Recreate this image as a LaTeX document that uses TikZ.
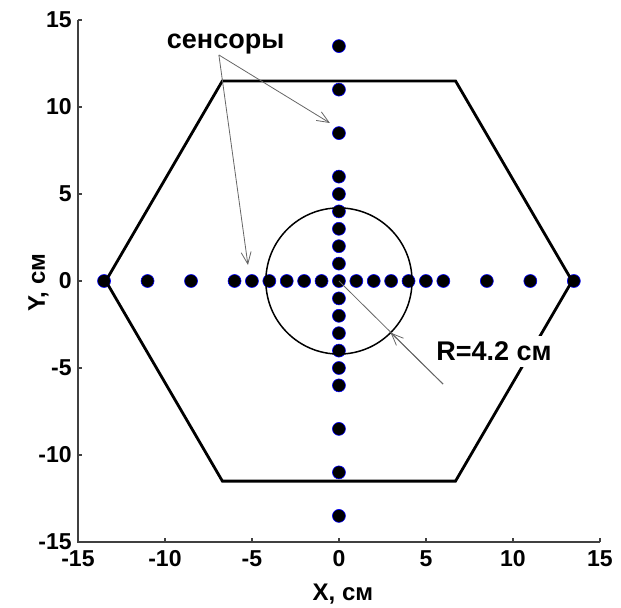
\documentclass[tikz,border=0pt]{standalone}
\usepackage{fontspec}
\setmainfont{Liberation Sans}
\usetikzlibrary{arrows.meta}

\begin{document}
\begin{tikzpicture}[x=17.4pt, y=17.4pt,
  sensor/.style={circle, fill=black, draw=blue, line width=0.6pt, inner sep=0pt, minimum size=13pt},
  ticklabel/.style={inner sep=0pt, font=\bfseries\fontsize{23}{23}\selectfont},
  axislabel/.style={inner sep=0pt, anchor=base, font=\bfseries\fontsize{24}{24}\selectfont},
  note/.style={draw=black!60, line width=0.8pt},
  notearrow/.style={note, -{Straight Barb[length=12pt, width=10pt, line width=0.8pt]}},
  axisline/.style={draw=black!75, line width=1.2pt}]
\useasboundingbox (-19.48,-18.79) rectangle (16.21,16.15);

% axes
\draw[axisline] (-15,15) -- (-15,-15) -- (15,-15);
\foreach \v in {-15,-10,...,15} {
  \draw[axisline] (\v,-15) -- ++(0,0.25);
  \draw[axisline] (-15,\v) -- ++(0.25,0);
  \node[ticklabel, anchor=north] (xl\v) at (\v,-15.46) {\v};
  \node[ticklabel, anchor=east] (yl\v) at (-15.35,\v) {\v};
}
\node[axislabel] (xlab) at (0.23,-18.39) {X, см};
\node[axislabel, rotate=90] (ylab) at (-16.9,-0.1) {Y, см};

% sensors
\foreach \p in {-13.5,-11,-8.5,-6,-5,-4,-3,-2,-1,0,1,2,3,4,5,6,8.5,11,13.5}
  \node[sensor] (sx\p) at (\p,0) {};
\foreach \p in {-13.5,-11,-8.5,-6,-5,-4,-3,-2,-1,1,2,3,4,5,6,8.5,11,13.5}
  \node[sensor] (sy\p) at (0,\p) {};

% hexagon and circle
\draw[line width=2.8pt, line join=miter] (-13.4,0) -- (-6.7,11.5) -- (6.7,11.5) -- (13.4,0)
  -- (6.7,-11.5) -- (-6.7,-11.5) -- cycle;
\draw[line width=1.5pt] (0,0) circle (4.2);

% labels
\node[axislabel, font=\bfseries\fontsize{27}{27}\selectfont] (sens) at (-6.51,13.39) {сенсоры};
\coordinate (senstail) at (-6.9,12.99);
\coordinate (tipx) at (-5.23,0.92);
\coordinate (tipy) at (-0.52,9.08);
\draw[notearrow] (senstail) -- (tipx);
\draw[notearrow] (senstail) -- (tipy);

\coordinate (rtail) at (5.98,-5.92);
\coordinate (rtip) at (-45:4.2);
\draw[note] (sx0.center) -- (rtail);
\draw[notearrow] (rtail) -- (rtip);
\node[axislabel, fill=white, inner xsep=2pt, inner ysep=6pt, font=\bfseries\fontsize{27}{27}\selectfont] (rlab) at (8.91,-4.58) {R=4.2 см};
\end{tikzpicture}
\end{document}
